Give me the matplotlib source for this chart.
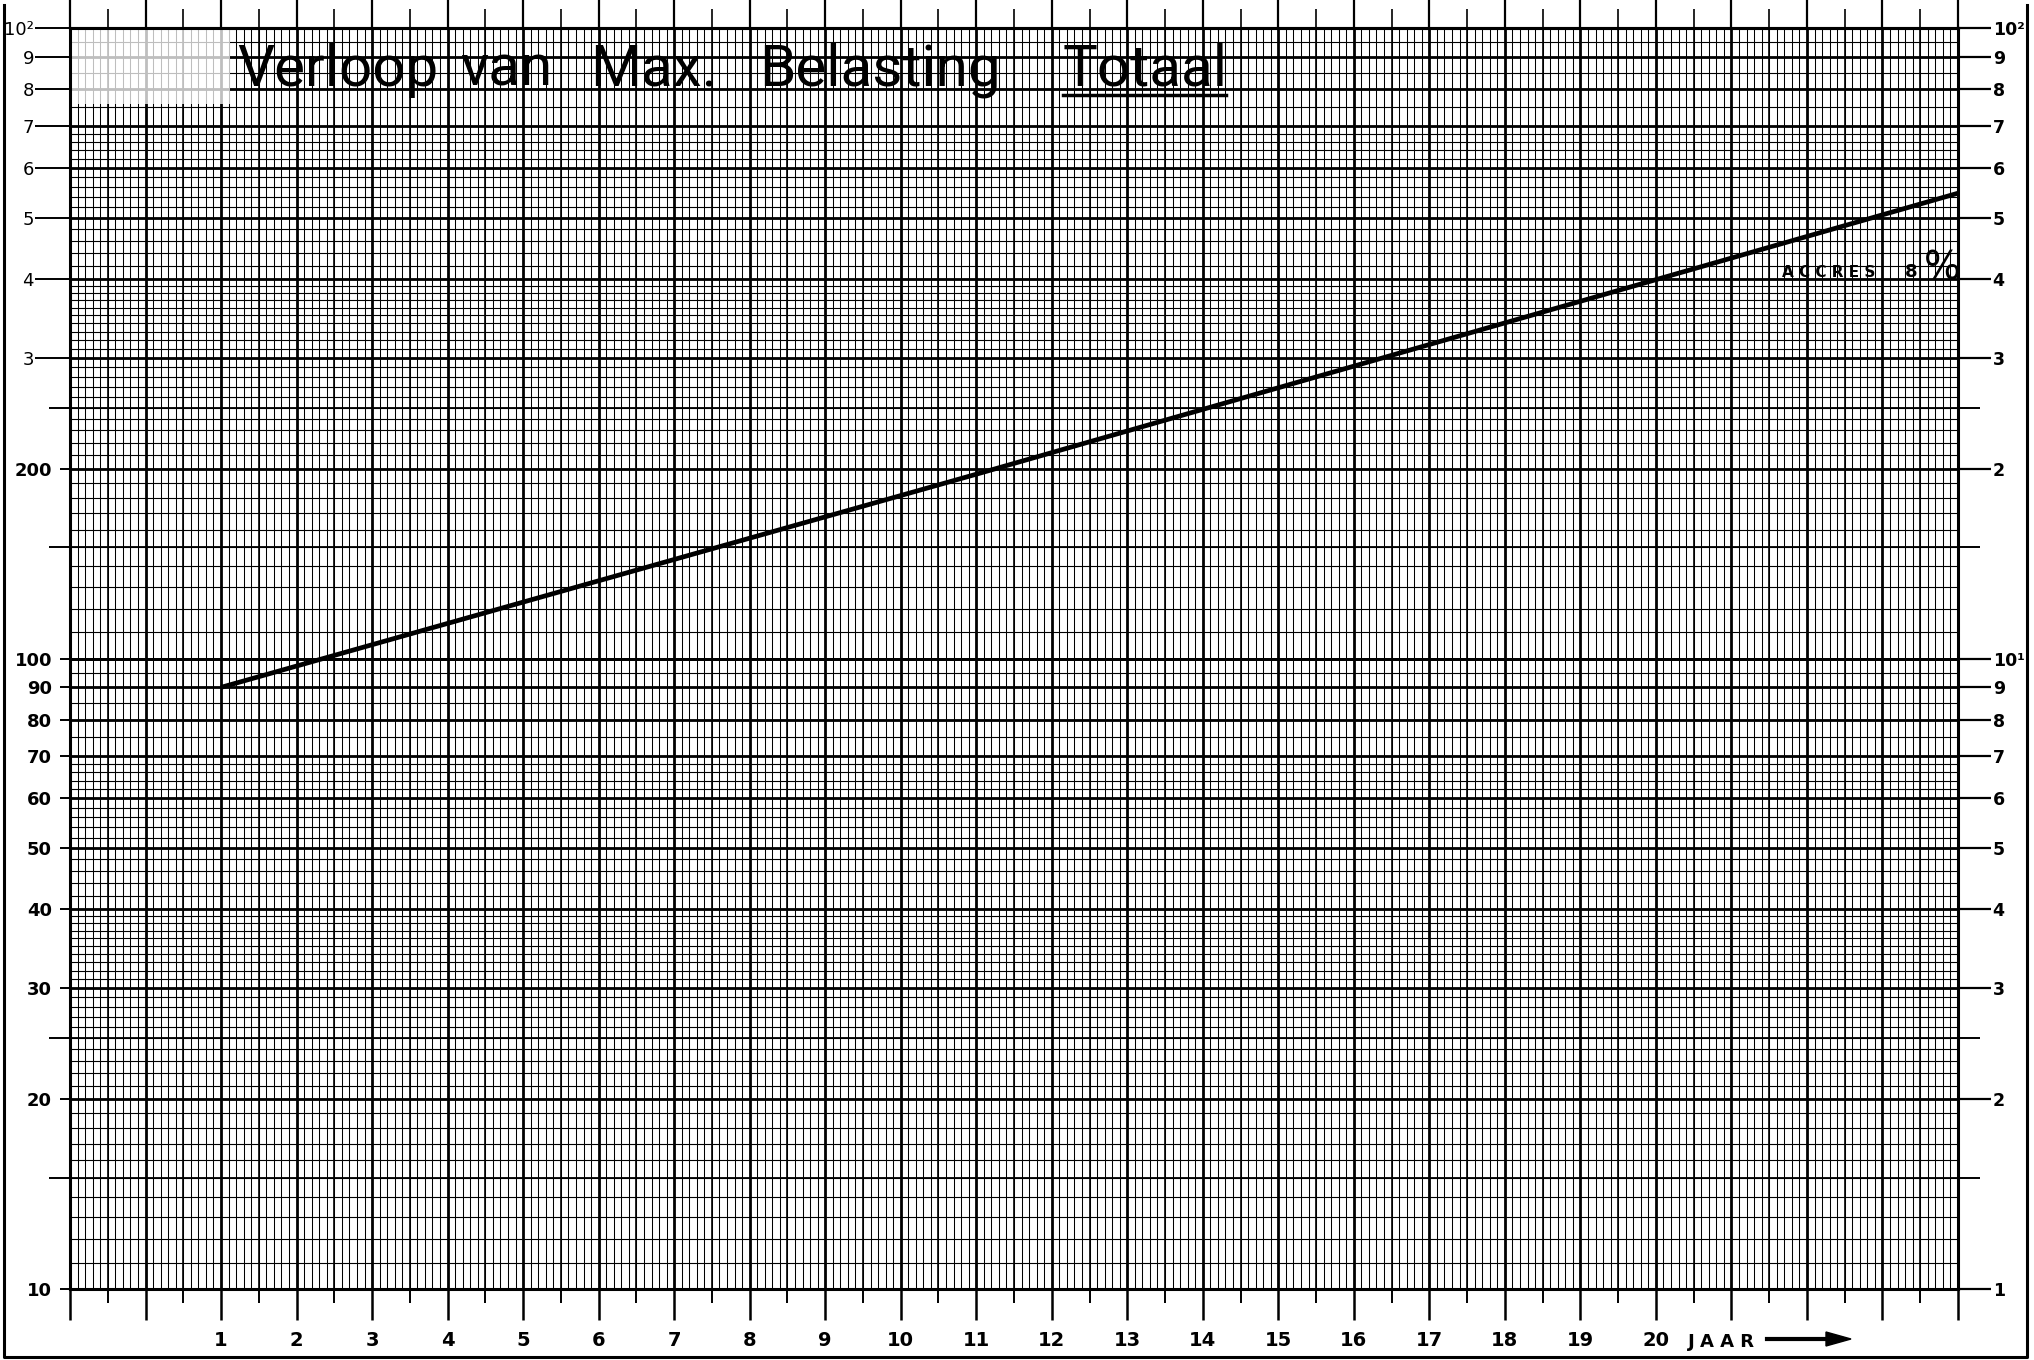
import numpy as np
import matplotlib.pyplot as plt
from matplotlib.lines import Line2D
from matplotlib.patches import Rectangle

# --------------------
# Données
# --------------------
line_years = [1, 11, 24]           # jaar
line_values = [90, 196, 547]       # belasting (lu op het papier)

year_labels = [str(j) for j in range(1, 21)]
year_ticks = list(range(-1, 25))

left_major = [10, 20, 30, 40, 50, 60, 70, 80, 90, 100, 200]
left_major_lbl = ['10', '20', '30', '40', '50', '60', '70', '80', '90', '100', '200']
left_minor = [300, 400, 500, 600, 700, 800, 900, 1000]
left_minor_lbl = ['3', '4', '5', '6', '7', '8', '9', '10²']

right_ticks = [10, 20, 30, 40, 50, 60, 70, 80, 90, 100,
               200, 300, 400, 500, 600, 700, 800, 900, 1000]
right_lbl = ['1', '2', '3', '4', '5', '6', '7', '8', '9', '10¹',
             '2', '3', '4', '5', '6', '7', '8', '9', '10²']
extra_marks = [15, 25, 150, 250]

title_words = ['Verloop', 'van', 'Max.', 'Belasting', 'Totaal']
title_x_px = [237, 460, 590, 759, 1063]

# --------------------
# Figuur
# --------------------
W, H = 2034, 1360
fig = plt.figure(figsize=(W / 100, H / 100), dpi=100)
fig.patch.set_facecolor('white')

x0, x1, yb, yt = 70, 1958, 1289, 28
ax = fig.add_axes([x0 / W, 1 - yb / H, (x1 - x0) / W, (yb - yt) / H])
ax.set_yscale('log')
ax.set_xlim(-1, 24)
ax.set_ylim(10, 1000)

# grafiekpapier : horizontale lijnen
h_minor = []
for dec in [10, 100]:
    for a, b, s in [(1, 4, 0.1), (4, 7, 0.2), (7, 10, 0.5)]:
        h_minor += list(dec * np.arange(a, b, s))
h_major = [d * k for d in [10, 100] for k in range(1, 11)]
ax.hlines(h_minor, -1, 24, color='k', lw=0.8, zorder=1)
ax.hlines(extra_marks, -1, 24, color='k', lw=1.3, zorder=1)
ax.hlines(h_major, -1, 24, color='k', lw=2.0, zorder=1)

# verticale lijnen
v_minor = np.arange(-1, 24.001, 0.1)
v_half = np.arange(-0.5, 24, 1.0)
ax.vlines(v_minor, 10, 1000, color='k', lw=0.75, zorder=1)
ax.vlines(v_half, 10, 1000, color='k', lw=1.2, zorder=1)
ax.vlines(year_ticks, 10, 1000, color='k', lw=2.0, zorder=1)

# vervaagd hoekje linksboven (scan)
ax.add_patch(Rectangle((0, 0.94), 0.085, 0.06, transform=ax.transAxes,
                       facecolor='white', alpha=0.75, lw=0, zorder=2))

# lijn 8 %
ax.plot(line_years, line_values, color='k', lw=3.4, zorder=4,
        solid_capstyle='butt', clip_on=False)

for sp in ax.spines.values():
    sp.set_linewidth(2.2)

# x-as onder
ax.set_xticks(year_ticks, [''] * 2 + year_labels + [''] * 4)
ax.set_xticks(v_half, minor=True)
ax.tick_params(axis='x', which='major', direction='out', length=22, width=1.8,
               pad=8, labelsize=14)
ax.tick_params(axis='x', which='minor', direction='out', length=10, width=1.4)
for lab in ax.get_xticklabels():
    lab.set_fontweight('bold')

# x-as boven
sec = ax.secondary_xaxis('top')
sec.set_xticks(year_ticks)
sec.set_xticks(v_half, minor=True)
sec.tick_params(which='major', direction='out', length=20, width=1.6, labeltop=False)
sec.tick_params(which='minor', direction='out', length=14, width=1.2)
sec.spines['top'].set_linewidth(2.2)

# y-as links
ax.set_yticks(left_major, left_major_lbl)
ax.set_yticks(left_minor, left_minor_lbl, minor=True)
ax.tick_params(axis='y', which='major', direction='out', length=7, width=1.4,
               pad=6, labelsize=13)
ax.tick_params(axis='y', which='minor', direction='out', length=25, width=1.4,
               pad=1, labelsize=13)
for lab in ax.get_yticklabels():
    lab.set_fontweight('bold')

# korte streepjes links
ax3 = ax.twinx()
ax3.set_yscale('log')
ax3.set_ylim(10, 1000)
ax3.yaxis.set_ticks_position('left')
ax3.set_yticks(extra_marks, [''] * 4)
ax3.yaxis.set_minor_locator(plt.NullLocator())
ax3.tick_params(axis='y', direction='out', length=15, width=1.4)
for sp in ax3.spines.values():
    sp.set_visible(False)

# y-as rechts
ax2 = ax.twinx()
ax2.set_yscale('log')
ax2.set_ylim(10, 1000)
ax2.set_yticks(right_ticks, right_lbl)
ax2.set_yticks(extra_marks, [''] * 4, minor=True)
ax2.tick_params(axis='y', which='major', direction='out', length=24, width=1.6,
                pad=1, labelsize=12.5)
ax2.tick_params(axis='y', which='minor', direction='out', length=16, width=1.4)
for lab in ax2.get_yticklabels():
    lab.set_fontweight('bold')
for sp in ax2.spines.values():
    sp.set_visible(False)

# titel
fam = ['Roboto', 'DejaVu Sans']
for w, xp in zip(title_words, title_x_px):
    fig.text(xp / W, 1 - 86 / H, w, fontsize=42, family=fam, fontweight='normal',
             va='baseline', ha='left', color='k', zorder=10)
fig.add_artist(Line2D([1063 / W, 1226 / W], [1 - 95 / H, 1 - 95 / H],
                      color='k', lw=2.5))

# ACCRES 8 %
fig.text(1782 / W, 1 - 277 / H, 'A C C R E S', fontsize=11, fontweight='bold',
         va='baseline', ha='left')
fig.text(1905 / W, 1 - 277 / H, '8', fontsize=13, fontweight='bold',
         va='baseline', ha='left')
fig.text(1924 / W, 1 - 280 / H, '%', fontsize=28, va='baseline', ha='left')

# JAAR ->
fig.text(1688 / W, 1 - 1347 / H, 'J A A R', fontsize=13, fontweight='bold',
         va='baseline', ha='left')
fig.add_artist(Line2D([1767 / W, 1830 / W], [1 - 1339 / H, 1 - 1339 / H],
                      color='k', lw=3))
fig.patches.append(plt.Polygon([[1826 / W, 1 - 1332 / H], [1851 / W, 1 - 1339 / H],
                                [1826 / W, 1 - 1346 / H]], closed=True,
                               transform=fig.transFigure, color='k', figure=fig))

# kader
fig.add_artist(Line2D([4 / W, 4 / W, 2027 / W, 2027 / W],
                      [1 - 5 / H, 1 - 1357 / H, 1 - 1357 / H, 1 - 5 / H],
                      color='k', lw=2.2))

fig.savefig('out.png', dpi=100, facecolor='white')
